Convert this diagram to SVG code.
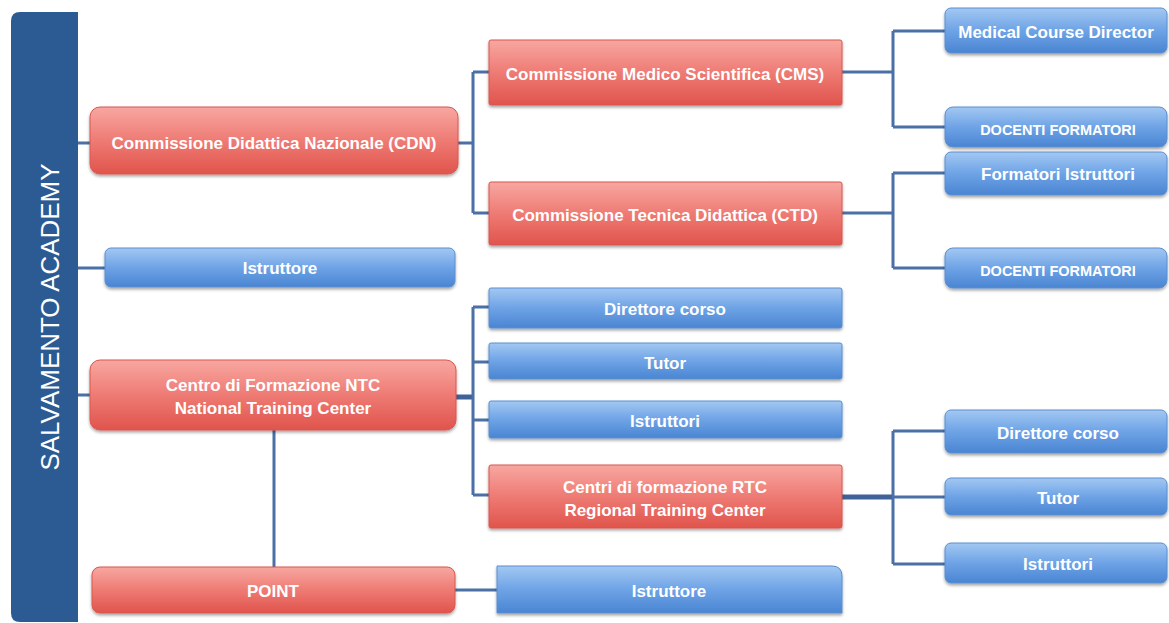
<svg xmlns="http://www.w3.org/2000/svg" width="1169" height="623" viewBox="0 0 1169 623">
<style>
.red{fill:url(#gr);stroke:#d9574f;stroke-width:1;filter:url(#sh)}
.blue{fill:url(#gb);stroke:#5a8ed0;stroke-width:1;filter:url(#sh)}
.t{font-family:"Liberation Sans",Arial,sans-serif;font-size:17px;font-weight:bold;fill:#fff;text-anchor:middle;dominant-baseline:central}
.caps{font-size:14.5px}
.title{font-size:26px;font-weight:normal}
.c{fill:none;stroke:#4a70a6;stroke-width:3}
.ct{fill:none;stroke:#3f6399;stroke-width:5}
</style>
<defs>
<linearGradient id="gr" x1="0" y1="0" x2="0" y2="1">
<stop offset="0" stop-color="#f8a7a1"/>
<stop offset="0.5" stop-color="#ee7b74"/>
<stop offset="1" stop-color="#e0544c"/>
</linearGradient>
<linearGradient id="gb" x1="0" y1="0" x2="0" y2="1">
<stop offset="0" stop-color="#a3c8f2"/>
<stop offset="0.5" stop-color="#6ea3e6"/>
<stop offset="1" stop-color="#4a85d2"/>
</linearGradient>
<filter id="sh" x="-5%" y="-20%" width="110%" height="150%">
<feDropShadow dx="0" dy="2" stdDeviation="1.5" flood-color="#000" flood-opacity="0.35"/>
</filter>
</defs>
<rect width="1169" height="623" fill="#fff"/>
<g id="connectors">
<path class="c" d="M77 143H90M77 268H105M77 395H90"/>
<path class="c" d="M458 143H473M473 72V213M473 72H489M473 213H489"/>
<path class="c" d="M842 72H893M893 31V127M893 31H945M893 127H945"/>
<path class="c" d="M842 213H893M893 173V268M893 173H945M893 268H945"/>
<path class="ct" d="M456 397H473"/>
<path class="c" d="M473 307V495M473 307H489M473 362H489M473 420H489M473 495H489"/>
<path class="c" d="M274 430V567"/>
<path class="c" d="M455 590H497"/>
<path class="ct" d="M842 497H893"/>
<path class="c" d="M893 431V564M893 431H945M893 497H945M893 564H945"/>
</g>
<g id="academy">
<path d="M20 12H78V622H20Q11 622 11 613V21Q11 12 20 12Z" fill="#2c5b93"/>
<text class="t title" transform="translate(50 317) rotate(-90)" textLength="307" lengthAdjust="spacingAndGlyphs">SALVAMENTO ACADEMY</text>
</g>
<g id="cdn"><rect class="red" x="90" y="107" width="368" height="67" rx="10"/><text class="t" x="274" y="143">Commissione Didattica Nazionale (CDN)</text></g>
<g id="istruttore1"><rect class="blue" x="105" y="248" width="350" height="39" rx="6"/><text class="t" x="280" y="268">Istruttore</text></g>
<g id="cms"><rect class="red" x="489" y="40" width="353" height="65" rx="2"/><text class="t" x="665" y="74">Commissione Medico Scientifica (CMS)</text></g>
<g id="ctd"><rect class="red" x="489" y="182" width="353" height="63" rx="2"/><text class="t" x="665" y="215">Commissione Tecnica Didattica (CTD)</text></g>
<g id="mcd"><rect class="blue" x="945" y="8" width="222" height="45" rx="6"/><text class="t" x="1056" y="32">Medical Course Director</text></g>
<g id="docenti1"><rect class="blue" x="945" y="107" width="222" height="40" rx="8"/><text class="t caps" x="1058" y="130">DOCENTI FORMATORI</text></g>
<g id="formatori"><rect class="blue" x="945" y="152" width="222" height="43" rx="6"/><text class="t" x="1058" y="174">Formatori Istruttori</text></g>
<g id="docenti2"><rect class="blue" x="945" y="248" width="222" height="40" rx="8"/><text class="t caps" x="1058" y="271">DOCENTI FORMATORI</text></g>
<g id="ntc"><rect class="red" x="90" y="360" width="366" height="70" rx="10"/><text class="t" x="273" y="385">Centro di Formazione NTC</text><text class="t" x="273" y="408">National Training Center</text></g>
<g id="direttore1"><rect class="blue" x="489" y="288" width="353" height="40" rx="2"/><text class="t" x="665" y="309">Direttore corso</text></g>
<g id="tutor1"><rect class="blue" x="489" y="343" width="353" height="36" rx="2"/><text class="t" x="665" y="363">Tutor</text></g>
<g id="istruttori1"><rect class="blue" x="489" y="401" width="353" height="37" rx="2"/><text class="t" x="665" y="421">Istruttori</text></g>
<g id="rtc"><rect class="red" x="489" y="465" width="353" height="63" rx="2"/><text class="t" x="665" y="487">Centri di formazione RTC</text><text class="t" x="665" y="510">Regional Training Center</text></g>
<g id="direttore2"><rect class="blue" x="945" y="410" width="222" height="43" rx="6"/><text class="t" x="1058" y="433">Direttore corso</text></g>
<g id="tutor2"><rect class="blue" x="945" y="478" width="222" height="37" rx="6"/><text class="t" x="1058" y="498">Tutor</text></g>
<g id="istruttori2"><rect class="blue" x="945" y="543" width="222" height="40" rx="6"/><text class="t" x="1058" y="564">Istruttori</text></g>
<g id="point"><rect class="red" x="92" y="567" width="363" height="46" rx="8"/><text class="t" x="273" y="591">POINT</text></g>
<g id="istruttore2"><path class="blue" d="M497 566H832Q842 566 842 576V613H497Z"/><text class="t" x="669" y="591">Istruttore</text></g>
</svg>
